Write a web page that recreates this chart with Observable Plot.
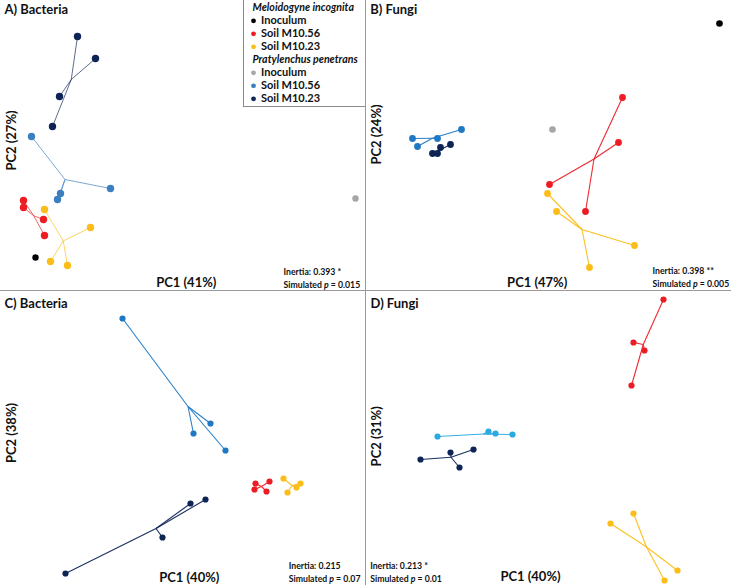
<!DOCTYPE html>
<html>
<head>
<meta charset="utf-8">
<script src="https://cdn.jsdelivr.net/npm/d3@7"></script>
<script src="https://cdn.jsdelivr.net/npm/@observablehq/plot@0.6"></script>
<style>
  html, body { margin: 0; padding: 0; background: #fff; }
  #fig { position: relative; width: 731px; height: 585px; display: grid;
         grid-template-columns: 365px 366px; grid-template-rows: 290px 295px; overflow: hidden; }
  #fig svg { display: block; }
  .vline { position: absolute; left: 365px; top: 0; width: 1px; height: 585px; background: #9a9a9a; }
  .hline { position: absolute; left: 0; top: 290px; width: 731px; height: 1px; background: #9a9a9a; }
  .legbox { position: absolute; left: 243px; top: 0; width: 122px; height: 107px;
            border-left: 1px solid #8a8a8a; border-bottom: 1px solid #8a8a8a; box-sizing: border-box; }
</style>
</head>
<body>
<div id="fig"></div>
<script>
// ---------- DATA ----------
const nematodes = ["Meloidogyne incognita", "Pratylenchus penetrans"];
const treatments = ["Inoculum", "Soil M10.56", "Soil M10.23"];
const groupIds = ["MiInoc", "Mi56", "Mi23", "PpInoc", "Pp56", "Pp23"];

const panelTitles = ["A) Bacteria", "B) Fungi", "C) Bacteria", "D) Fungi"];
const pc1Labels = ["PC1 (41%)", "PC1 (47%)", "PC1 (40%)", "PC1 (40%)"];
const pc2Labels = ["PC2 (27%)", "PC2 (24%)", "PC2 (38%)", "PC2 (31%)"];
const inertiaValues = ["0.393 *", "0.398 **", "0.215", "0.213 *"];
const simulatedP = ["0.015", "0.005", "0.07", "0.01"];

// sample scores: [group, PC1, PC2]
const scoresA = [
  ["Pp23", -1.03, 1.10], ["Pp23", -0.85, 0.88], ["Pp23", -1.21, 0.50], ["Pp23", -1.28, 0.20],
  ["Pp56", -1.49, 0.10], ["Pp56", -0.70, -0.42], ["Pp56", -1.20, -0.47], ["Pp56", -1.23, -0.53],
  ["Mi56", -1.57, -0.54], ["Mi56", -1.57, -0.61], ["Mi56", -1.37, -0.73], ["Mi56", -1.36, -0.89],
  ["Mi23", -1.36, -0.63], ["Mi23", -0.90, -0.81], ["Mi23", -1.30, -1.15], ["Mi23", -1.13, -1.19],
  ["MiInoc", -1.45, -1.11], ["PpInoc", 1.75, -0.52]
];
const scoresB = [
  ["MiInoc", 1.74, 1.23],
  ["Mi56", 0.77, 0.49], ["Mi56", 0.73, 0.04], ["Mi56", 0.04, -0.38], ["Mi56", 0.40, -0.65],
  ["Mi23", 0.02, -0.47], ["Mi23", 0.11, -0.65], ["Mi23", 0.89, -0.99], ["Mi23", 0.44, -1.21],
  ["PpInoc", 0.07, 0.17],
  ["Pp56", -1.33, 0.08], ["Pp56", -0.84, 0.17], ["Pp56", -1.08, 0.08], ["Pp56", -1.28, 0.00],
  ["Pp23", -0.95, 0.02], ["Pp23", -1.05, -0.01], ["Pp23", -1.08, -0.07], ["Pp23", -1.13, -0.07]
];
const scoresC = [
  ["Pp56", -0.58, 1.18], ["Pp56", 0.30, 0.13], ["Pp56", 0.13, 0.03], ["Pp56", 0.45, -0.14],
  ["Pp23", -1.15, -1.37], ["Pp23", 0.10, -0.67], ["Pp23", 0.25, -0.63], ["Pp23", -0.18, -1.01],
  ["Mi56", 0.75, -0.47], ["Mi56", 0.89, -0.45], ["Mi56", 0.74, -0.53], ["Mi56", 0.86, -0.55],
  ["Mi23", 1.03, -0.42], ["Mi23", 1.20, -0.47], ["Mi23", 1.16, -0.51], ["Mi23", 1.07, -0.56]
];
const scoresD = [
  ["Mi56", 1.18, 1.37], ["Mi56", 0.88, 0.94], ["Mi56", 0.99, 0.86], ["Mi56", 0.86, 0.51],
  ["Mi23", 0.88, -0.77], ["Mi23", 0.65, -0.87], ["Mi23", 1.32, -1.34], ["Mi23", 1.19, -1.44],
  ["Pp56", -1.08, 0.00], ["Pp56", -0.57, 0.05], ["Pp56", -0.50, 0.03], ["Pp56", -0.33, 0.02],
  ["Pp23", -1.25, -0.23], ["Pp23", -0.95, -0.16], ["Pp23", -0.72, -0.13], ["Pp23", -0.86, -0.31]
];
const allScores = [scoresA, scoresB, scoresC, scoresD];

// ---------- STYLE / LAYOUT ----------
const basePalette = {MiInoc: "#000000", Mi56: "#ed1c24", Mi23: "#fbbd18", PpInoc: "#a6a6a6", Pp56: "#3d7ebf", Pp23: "#0d2455"};
const palettes = [
  basePalette,
  {...basePalette, Pp56: "#1f78c4"},
  {...basePalette, Pp56: "#1f78c4"},
  {...basePalette, Pp56: "#29abe2"}
];
const sizes = [[365, 290], [366, 290], [365, 295], [366, 295]];
const xDomains = [[-1.80, 1.85], [-1.80, 1.86], [-1.80, 1.85], [-1.80, 1.86]];
const yDomains = [[-1.44, 1.46], [-1.44, 1.46], [-1.49, 1.46], [-1.49, 1.46]];
const layout = [
  {titleX: 4, titleBase: 13.5, pc1dx: 3.3, pc1Base: 286.5, pc2dy: -5, inX: 283, inBase: 287, r: 3.7, rInoc: 3.2, lw: 0.9, lo: 0.75},
  {titleX: 4.7, titleBase: 13, pc1dx: -11.3, pc1Base: 286.3, pc2dy: -11, inX: 287, inBase: 286.5, r: 3.4, rInoc: 3.3, lw: 1.1, lo: 0.95},
  {titleX: 4, titleBase: 17.7, pc1dx: 6.3, pc1Base: 291.5, pc2dy: -5, inX: 288.3, inBase: 291, r: 3.1, rInoc: 3.1, lw: 1.1, lo: 0.95},
  {titleX: 5, titleBase: 17.7, pc1dx: -18, pc1Base: 290.7, pc2dy: -1.7, inX: 4.7, inBase: 291, r: 3.1, rInoc: 3.1, lw: 1.1, lo: 0.95}
];
const FONT = "Lato, 'Open Sans', sans-serif";

function makePanel(i) {
  const [W, H] = sizes[i];
  const L = layout[i];
  const pal = palettes[i];
  const pts = allScores[i].map(([g, x, y]) => ({g, x, y}));
  const cent = d3.rollup(pts, v => [d3.mean(v, d => d.x), d3.mean(v, d => d.y)], d => d.g);
  const links = pts.filter(d => !d.g.endsWith("Inoc")).map(d => ({g: d.g, x1: d.x, y1: d.y, x2: cent.get(d.g)[0], y2: cent.get(d.g)[1]}));
  const groupsPts = pts.filter(d => !d.g.endsWith("Inoc"));
  const inocPts = pts.filter(d => d.g.endsWith("Inoc"));

  const marks = [
    Plot.link(links, {x1: "x1", y1: "y1", x2: "x2", y2: "y2", stroke: d => pal[d.g], strokeWidth: L.lw, strokeOpacity: L.lo}),
    Plot.dot(groupsPts, {x: "x", y: "y", r: L.r, fill: d => pal[d.g], stroke: "none"}),
    Plot.dot(inocPts, {x: "x", y: "y", r: L.rInoc, fill: d => pal[d.g], stroke: "none"}),
    Plot.text([panelTitles[i]], {text: d => d, frameAnchor: "top-left", textAnchor: "start", lineAnchor: "bottom",
      dx: L.titleX, dy: L.titleBase, fontSize: 13, fontWeight: "bold", fill: "#111"}),
    Plot.text([pc1Labels[i]], {text: d => d, frameAnchor: "bottom", textAnchor: "middle", lineAnchor: "bottom",
      dx: L.pc1dx, dy: L.pc1Base - H, fontSize: 13, fontWeight: "bold", fill: "#111"}),
    Plot.text([pc2Labels[i]], {text: d => d, frameAnchor: "left", textAnchor: "middle", lineAnchor: "bottom",
      rotate: -90, dx: 15, dy: L.pc2dy, fontSize: 13, fontWeight: "bold", fill: "#111"}),
    Plot.text(["Inertia: " + inertiaValues[i]], {text: d => d, frameAnchor: "bottom-left", textAnchor: "start", lineAnchor: "bottom",
      dx: L.inX, dy: L.inBase - 13 - H, fontSize: 8.7, fontWeight: "bold", fill: "#111"}),
    Plot.text(["Simulated p = " + simulatedP[i]], {text: d => d, frameAnchor: "bottom-left", textAnchor: "start", lineAnchor: "bottom",
      dx: L.inX, dy: L.inBase - H, fontSize: 8.7, fontWeight: "bold", fill: "#111"})
  ];

  if (i === 0) {
    const legendRows = [
      {label: nematodes[0]},
      {label: treatments[0], g: "MiInoc"}, {label: treatments[1], g: "Mi56"}, {label: treatments[2], g: "Mi23"},
      {label: nematodes[1]},
      {label: treatments[0], g: "PpInoc"}, {label: treatments[1], g: "Pp56"}, {label: treatments[2], g: "Pp23"}
    ];
    legendRows.forEach((row, k) => {
      const dy = 7.3 + 13 * k;
      if (!row.g) {
        marks.push(Plot.text([row.label], {text: d => d, frameAnchor: "top-left", textAnchor: "start", lineAnchor: "middle",
          dx: 252, dy, fontSize: 10.6, fontWeight: "bold", fontStyle: "italic", fill: "#111"}));
      } else {
        marks.push(Plot.dot([row], {frameAnchor: "top-left", dx: 253, dy, r: 2.4, fill: pal[row.g], stroke: "none"}));
        marks.push(Plot.text([row.label], {text: d => d, frameAnchor: "top-left", textAnchor: "start", lineAnchor: "middle",
          dx: 260.5, dy, fontSize: 11, fontWeight: "bold", fill: "#111"}));
      }
    });
  }

  const svg = Plot.plot({
    width: W, height: H, margin: 0,
    x: {domain: xDomains[i], axis: null},
    y: {domain: yDomains[i], axis: null},
    style: {fontFamily: FONT, background: "transparent", overflow: "visible"},
    marks
  });
  d3.select(svg).selectAll("text").filter(function () { return /^Simulated p /.test(this.textContent); }).each(function () {
    const rest = this.textContent.slice("Simulated p".length);
    const t = d3.select(this);
    t.text(null);
    t.append("tspan").text("Simulated ");
    t.append("tspan").attr("font-style", "italic").text("p");
    t.append("tspan").text(rest);
  });
  return svg;
}

const fig = document.getElementById("fig");
for (let i = 0; i < 4; i++) {
  const cell = document.createElement("div");
  cell.appendChild(makePanel(i));
  fig.appendChild(cell);
}
["vline", "hline", "legbox"].forEach(c => {
  const d = document.createElement("div");
  d.className = c;
  fig.appendChild(d);
});
</script>
</body>
</html>
